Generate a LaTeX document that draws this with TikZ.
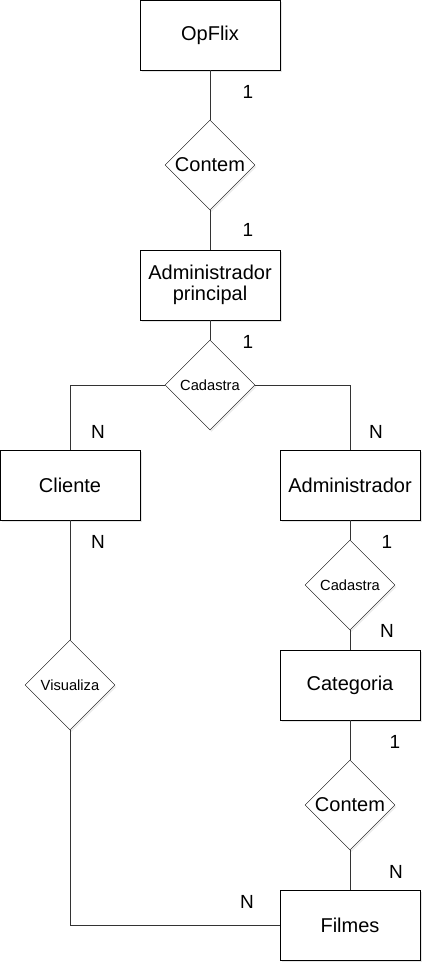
\documentclass[tikz,border=0pt]{standalone}
\usepackage{fontspec}
\setmainfont{Liberation Sans}
\usetikzlibrary{shapes.geometric,shadows,positioning,calc}

\tikzset{
	entity/.style={draw, fill=white, minimum width=140pt, minimum height=70pt, align=center,
		font=\fontsize{20}{23}\selectfont,
		drop shadow={shadow xshift=1.5pt, shadow yshift=-2pt, opacity=0.2}},
	relation/.style={draw, fill=white, diamond, minimum width=90pt, minimum height=90pt, inner sep=0pt,
		drop shadow={shadow xshift=1.5pt, shadow yshift=-2pt, opacity=0.15}},
	card/.style={font=\fontsize{19}{21}\selectfont},
	link/.style={line width=0.9pt, draw=black!80}
}

\begin{document}
\begin{tikzpicture}[x=1pt,y=-1pt]
	\useasboundingbox (0,0) rectangle (432,973);
	% entidades
	\node [entity] (opflix) at (210,35) {OpFlix};
	\node [entity] (adminp) at (210,285) {Administrador\\[-2pt]principal};
	\node [entity] (cliente) at (70,485) {Cliente};
	\node [entity] (admin) at (350,485) {Administrador};
	\node [entity] (categoria) at (350,685) {Categoria};
	\node [entity] (filmes) at (350,925) {Filmes};
	% relacionamentos
	\node [relation, font=\fontsize{20}{23}\selectfont] (contemA) at (210,165) {Contem};
	\node [relation, font=\fontsize{14.7}{16}\selectfont] (cadastraA) at (210,385) {Cadastra};
	\node [relation, font=\fontsize{14.7}{16}\selectfont] (visualiza) at (70,685) {Visualiza};
	\node [relation, font=\fontsize{14.7}{16}\selectfont] (cadastraB) at (350,585) {Cadastra};
	\node [relation, font=\fontsize{20}{23}\selectfont] (contemB) at (350,805) {Contem};
	% ligacoes
	\draw [link] (opflix) -- (contemA);
	\draw [link] (contemA) -- (adminp);
	\draw [link] (adminp) -- (cadastraA);
	\draw [link] (cadastraA.west) -| (cliente.north);
	\draw [link] (cadastraA.east) -| (admin.north);
	\draw [link] (cliente) -- (visualiza);
	\draw [link] (visualiza.south) |- (filmes.west);
	\draw [link] (admin) -- (cadastraB);
	\draw [link] (cadastraB) -- (categoria);
	\draw [link] (categoria) -- (contemB);
	\draw [link] (contemB) -- (filmes);
	% cardinalidades
	\node [card] (c1) at (248,92) {1};
	\node [card] (c2) at (248,230) {1};
	\node [card] (c3) at (248,342) {1};
	\node [card] (c4) at (98,432) {N};
	\node [card] (c5) at (376,432) {N};
	\node [card] (c6) at (98,542) {N};
	\node [card] (c7) at (387,542) {1};
	\node [card] (c8) at (387,631) {N};
	\node [card] (c9) at (395,742) {1};
	\node [card] (c10) at (396,872) {N};
	\node [card] (c11) at (247,902) {N};
\end{tikzpicture}
\end{document}
